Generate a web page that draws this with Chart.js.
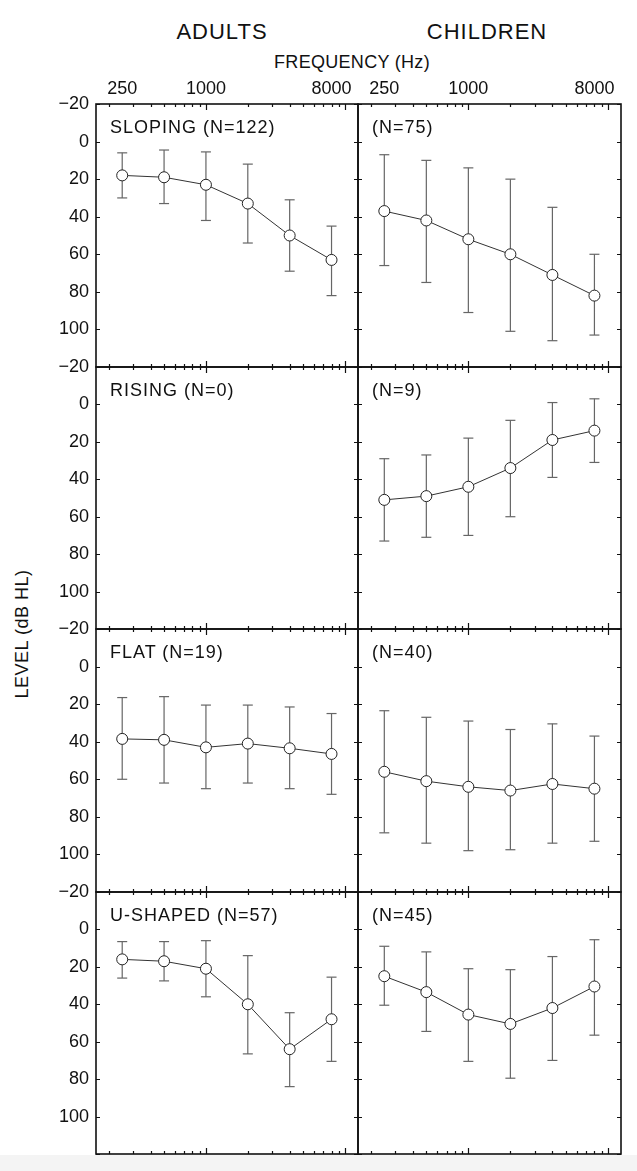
<!DOCTYPE html>
<html>
<head>
<meta charset="utf-8">
<script src="https://cdn.jsdelivr.net/npm/chart.js@4.4.1/dist/chart.umd.min.js"></script>
<style>
  body { margin: 0; background: #fff; font-family: 'Liberation Sans', Arial, sans-serif; color: #111; }
  #page { position: relative; width: 637px; height: 1171px; overflow: hidden; background: #fff; }
  #page canvas { position: absolute; }
  .txt { position: absolute; white-space: nowrap; line-height: 1; }
  .center { transform: translate(-50%, -50%); }
  .panel-label { font-size: 18px; letter-spacing: 1px; transform: translateY(-50%); }
  #strip { position: absolute; left: 0; top: 1155px; width: 637px; height: 16px; background: #f4f4f4; }
</style>
</head>
<body>
<div id="page">
  <div class="txt center" style="left:222px; top:32px; font-size:22px; letter-spacing:1px;">ADULTS</div>
  <div class="txt center" style="left:487px; top:32px; font-size:22px; letter-spacing:1px;">CHILDREN</div>
  <div class="txt center" style="left:352px; top:62px; font-size:18px; letter-spacing:0.3px;">FREQUENCY (Hz)</div>
  <div class="txt" style="left:22px; top:634px; font-size:18px; letter-spacing:0.5px; transform: translate(-50%, -50%) rotate(-90deg);">LEVEL (dB HL)</div>
  <div id="strip"></div>
</div>
<script>
// --- DATA ---
const freqs = [250, 500, 1000, 2000, 4000, 8000];
const yTicks = [-20, 0, 20, 40, 60, 80, 100, 120];
const freqTickLabels = [250, 1000, 8000];
const minorFreqTicks = [200, 300, 400, 500, 600, 700, 800, 900, 2000, 3000, 4000, 5000, 6000, 7000, 8000, 9000];
const majorFreqTicks = [1000, 10000];

// mean level and the two ends of each bar (dB HL)
const adultSlopingMean = [18, 19, 23, 33, 50, 63];
const adultSlopingMin = [6, 4.5, 5.5, 12, 31, 45];
const adultSlopingMax = [30, 33, 42, 54, 69, 82];

const childSlopingMean = [37, 42, 52, 60, 71, 82];
const childSlopingMin = [7, 10, 14, 20, 35, 60];
const childSlopingMax = [66, 75, 91, 101, 106, 103];

const adultRisingMean = [];
const adultRisingMin = [];
const adultRisingMax = [];

const childRisingMean = [51, 49, 44, 34, 19, 14];
const childRisingMin = [29, 27, 18, 8.5, -1, -3];
const childRisingMax = [73, 71, 70, 60, 39, 31];

const adultFlatMean = [38.5, 39, 43, 41, 43.5, 46.5];
const adultFlatMin = [16.5, 16, 20.5, 20.5, 21.5, 25];
const adultFlatMax = [60, 62, 65, 62, 65, 68];

const childFlatMean = [56, 61, 64, 66, 62.5, 65];
const childFlatMin = [23.5, 27, 29, 33.5, 30.5, 37];
const childFlatMax = [88.5, 94, 98, 97.5, 94, 93];

const adultUMean = [16, 17, 21, 40, 64, 48];
const adultUMin = [6.5, 6.5, 6, 14, 44.5, 25.5];
const adultUMax = [26, 27.5, 36, 66.5, 84, 70.5];

const childUMean = [25, 33.5, 45.5, 50.5, 42, 30.5];
const childUMin = [9, 12, 21, 21.5, 14.5, 5.5];
const childUMax = [40.5, 54.5, 70.5, 79.5, 70, 56.5];

const panelLabels = ['SLOPING (N=122)', '(N=75)', 'RISING (N=0)', '(N=9)', 'FLAT (N=19)', '(N=40)', 'U-SHAPED (N=57)', '(N=45)'];

// --- LAYOUT ---
const rowTops = [104, 367, 629, 892];
const rowBottoms = [367, 629, 892, 1154];
const fontFamily = "'Liberation Sans', Arial, sans-serif";
const PAD = 20; // room above/below each panel for the edge tick labels

// frame + inward tick marks, placed through the chart's own scales
const framePlugin = {
  id: 'frame',
  afterDatasetsDraw(chart) {
    const { ctx, chartArea: a, scales: { x, y } } = chart;
    ctx.save();
    ctx.strokeStyle = '#111';
    ctx.lineWidth = 1.6;
    ctx.strokeRect(a.left, a.top, a.right - a.left, a.bottom - a.top);
    ctx.lineWidth = 1.2;
    ctx.beginPath();
    yTicks.forEach(v => {
      const py = Math.round(y.getPixelForValue(v)) + 0.5;
      ctx.moveTo(a.left, py); ctx.lineTo(a.left + 4, py);
      ctx.moveTo(a.right, py); ctx.lineTo(a.right - 4, py);
    });
    const freqTick = (f, len) => {
      const px = Math.round(x.getPixelForValue(f)) + 0.5;
      ctx.moveTo(px, a.top); ctx.lineTo(px, a.top + len);
      ctx.moveTo(px, a.bottom); ctx.lineTo(px, a.bottom - len);
    };
    minorFreqTicks.forEach(f => freqTick(f, 3));
    majorFreqTicks.forEach(f => freqTick(f, 6));
    ctx.stroke();
    ctx.restore();
  }
};

function makePanel(col, row, mean, min, max, label) {
  const page = document.getElementById('page');
  const canvas = document.createElement('canvas');
  const top = row === 0 ? 60 : rowTops[row] - PAD;
  const bottom = rowBottoms[row] + PAD;
  const left = col === 0 ? 0 : 354;
  const width = col === 0 ? 362 : 272;
  canvas.width = width;
  canvas.height = bottom - top;
  canvas.style.left = left + 'px';
  canvas.style.top = top + 'px';
  page.appendChild(canvas);

  // panel caption
  const cap = document.createElement('div');
  cap.className = 'txt panel-label';
  cap.style.left = (col === 0 ? 110 : 372) + 'px';
  cap.style.top = (rowTops[row] + 23) + 'px';
  cap.textContent = label;
  page.appendChild(cap);

  const meanData = mean.map((m, i) => ({ x: freqs[i], y: m }));
  const errData = [];
  mean.forEach((m, i) => {
    errData.push({ x: freqs[i], y: min[i] }, { x: freqs[i], y: max[i] }, { x: freqs[i], y: null });
  });

  new Chart(canvas, {
    type: 'line',
    data: {
      datasets: [
        { data: meanData, borderColor: '#333', borderWidth: 1, pointRadius: 5.5, pointBackgroundColor: '#fff', pointBorderColor: '#222', pointBorderWidth: 1, order: 1 },
        { data: errData, borderColor: '#666', borderWidth: 1.2, pointStyle: 'line', pointRadius: 5, pointBorderColor: '#666', pointBorderWidth: 1.2, spanGaps: false, order: 2 }
      ]
    },
    options: {
      responsive: false,
      animation: false,
      devicePixelRatio: 1,
      events: [],
      layout: { autoPadding: false, padding: { top: row === 0 ? 0 : PAD, bottom: PAD, left: col === 0 ? 0 : 4, right: col === 0 ? 4 : 5 } },
      plugins: { legend: { display: false }, tooltip: { enabled: false } },
      scales: {
        x: {
          type: 'logarithmic', min: 162, max: 12400, position: 'top',
          display: row === 0,
          grid: { display: false, drawTicks: false },
          border: { display: false },
          afterBuildTicks: s => { s.ticks = freqTickLabels.map(v => ({ value: v })); },
          afterFit: s => { if (row === 0) s.height = 44; },
          ticks: { padding: 4, autoSkip: false, maxRotation: 0, color: '#111', font: { size: 18, family: fontFamily }, callback: v => String(v) }
        },
        y: {
          type: 'linear', reverse: true, min: -20, max: 120,
          display: col === 0,
          grid: { display: false, drawTicks: false },
          border: { display: false },
          afterBuildTicks: s => { s.ticks = yTicks.map(v => ({ value: v })); },
          afterFit: s => { if (col === 0) s.width = 96; },
          ticks: {
            padding: 7, autoSkip: false, color: '#111', font: { size: 18, family: fontFamily },
            callback: v => v === 120 ? '' : (v < 0 ? '\u2212' + Math.abs(v) : String(v))
          }
        }
      }
    },
    plugins: [framePlugin]
  });
}

document.addEventListener('DOMContentLoaded', () => {
  makePanel(0, 0, adultSlopingMean, adultSlopingMin, adultSlopingMax, panelLabels[0]);
  makePanel(1, 0, childSlopingMean, childSlopingMin, childSlopingMax, panelLabels[1]);
  makePanel(0, 1, adultRisingMean, adultRisingMin, adultRisingMax, panelLabels[2]);
  makePanel(1, 1, childRisingMean, childRisingMin, childRisingMax, panelLabels[3]);
  makePanel(0, 2, adultFlatMean, adultFlatMin, adultFlatMax, panelLabels[4]);
  makePanel(1, 2, childFlatMean, childFlatMin, childFlatMax, panelLabels[5]);
  makePanel(0, 3, adultUMean, adultUMin, adultUMax, panelLabels[6]);
  makePanel(1, 3, childUMean, childUMin, childUMax, panelLabels[7]);
});
</script>
</body>
</html>
